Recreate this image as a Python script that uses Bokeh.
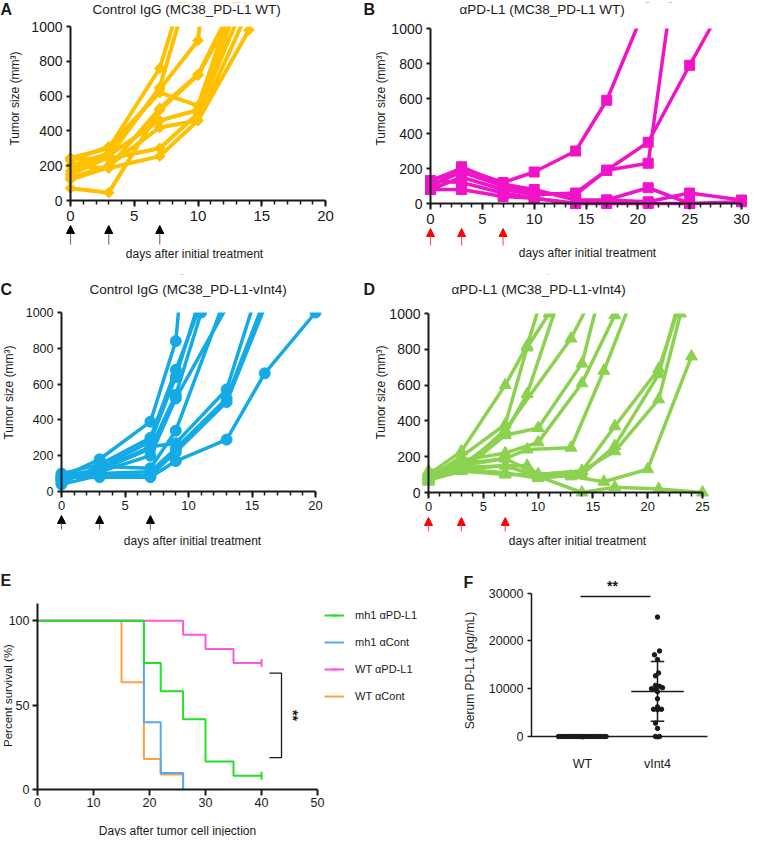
import numpy as np
from bokeh.plotting import figure
from bokeh.layouts import row, column
from bokeh.models import (LinearAxis, SingleIntervalTicker, FixedTicker, Range1d, BoxAnnotation,
                          Label, Arrow, NormalHead, ColumnDataSource, Legend, LegendItem)
from bokeh.embed import file_html
from bokeh.resources import INLINE

FONT = "Liberation Sans"
INK = "#1a1a1a"

# ------------------------------------------------------------------ data
treat_days = [0, 3, 7]
size_axis_max = 1000

A_days = [[0, 3, 7, 10], [0, 3, 7, 10], [0, 3, 7, 10, 14], [0, 3, 7, 10, 14],
          [0, 3, 7, 10, 14], [0, 3, 7, 10, 14], [0, 3, 7, 10, 14], [0, 3, 7, 10, 14],
          [0, 3, 7, 10, 14], [0, 3, 7, 10, 14]]
A_size = [[245, 300, 760, 1480], [150, 250, 650, 1400], [200, 270, 640, 920, 3500],
          [120, 190, 530, 725, 1300], [230, 310, 620, 545, 1400], [170, 260, 460, 520, 1300],
          [130, 200, 420, 460, 980], [240, 240, 300, 500, 1200], [70, 45, 520, 720, 1250],
          [200, 185, 255, 460, 1100]]

B_days = [[0, 3, 7, 10, 14, 17, 21], [0, 3, 7, 10, 14, 17, 21, 25],
          [0, 3, 7, 10, 14, 17, 21, 25, 28], [0, 3, 7, 10, 14, 17, 21, 25],
          [0, 3, 7, 10, 14, 17, 21, 25, 30], [0, 3, 7, 10, 14, 17, 21, 25, 30]]
B_size = [[130, 200, 120, 180, 300, 590, 1160], [100, 180, 100, 60, 50, 190, 230, 1940],
          [80, 150, 80, 50, 60, 190, 350, 790, 1110], [90, 210, 110, 80, 20, 20, 90, 0],
          [130, 120, 60, 30, 0, 20, 10, 60, 20], [80, 80, 40, 30, 0, 0, 0, 0, 10]]

C_days = [[0, 3, 7, 9, 11], [0, 3, 7, 9, 11], [0, 3, 7, 9, 11], [0, 3, 7, 9, 11],
          [0, 3, 7, 9, 13], [0, 3, 7, 9, 13, 15], [0, 3, 7, 9, 13, 16], [0, 3, 7, 9, 13, 16],
          [0, 3, 7, 9, 13, 16, 20], [0, 3, 7, 9, 13]]
C_size = [[80, 180, 390, 840, 2400], [100, 150, 300, 680, 1050], [60, 130, 280, 640, 1100],
          [90, 120, 240, 540, 1000], [70, 110, 200, 520, 1030], [60, 120, 250, 270, 570, 1020],
          [70, 100, 110, 240, 520, 1070], [40, 90, 90, 220, 500, 1030],
          [80, 80, 80, 170, 290, 660, 1000], [50, 140, 130, 340, 1100]]

D_days = [[0, 3, 7, 9, 11], [0, 3, 7, 9, 11], [0, 3, 7, 9, 12], [0, 3, 7, 13, 15],
          [0, 3, 7, 10, 14, 16], [0, 3, 7, 10, 14, 17], [0, 3, 7, 9, 13, 16, 19],
          [0, 3, 7, 9, 10, 14, 17, 21, 23], [0, 3, 7, 10, 14, 17, 21, 23],
          [0, 3, 7, 10, 14, 17, 21, 23], [0, 3, 7, 10, 13, 16, 20, 24],
          [0, 3, 7, 10, 14, 17, 21, 25]]
D_size = [[100, 230, 600, 820, 1220], [80, 200, 380, 810, 1000], [120, 150, 330, 550, 1100],
          [90, 130, 350, 860, 1100], [70, 120, 320, 360, 720, 1200],
          [60, 180, 220, 280, 610, 990], [100, 160, 190, 240, 250, 680, 1150],
          [110, 140, 150, 150, 100, 120, 370, 690, 1060], [90, 130, 110, 80, 100, 260, 660, 1100],
          [70, 120, 100, 100, 120, 230, 520, 1000], [110, 150, 190, 100, 90, 60, 130, 760],
          [80, 130, 150, 90, 0, 30, 20, 0]]

# survival (Kaplan-Meier steps)
surv_names = ["mh1 \u03b1PD-L1", "mh1 \u03b1Cont", "WT \u03b1PD-L1", "WT \u03b1Cont"]
surv_colors = ["#22E022", "#5AA8F5", "#FF55DD", "#FFA040"]
surv_days = [[0, 19, 22, 26, 30, 35, 40], [0, 19, 22, 26], [0, 26, 30, 35, 40],
             [0, 15, 19, 22, 26]]
surv_pct = [[100, 75, 58.3, 41.7, 16.7, 8.3, 8.3], [100, 40, 10, 0], [100, 91.7, 83.3, 75, 75],
            [100, 63.6, 18.2, 9.1, 0]]
censor_day = [[40], [], [40], []]
censor_pct = [[8.3], [], [75], []]
bracket_pct = [19, 69]

# serum PD-L1
wt_vals = [0] * 20
wt_offset_px = [-24, -21.5, -19, -16.5, -14, -11.5, -9, -6.5, -4, -1.5, 1, 3.5, 6, 8.5,
                11, 13.5, 16, 18.5, 21, 23.5]
vint_vals = [25000, 17900, 17100, 16100, 13300, 12700, 10700, 10500, 10200, 10000, 9800,
             9400, 7900, 6200, 5700, 5600, 5700, 2800, 1700, 0, 0]
vint_offset_px = [0, 2, -3, 0, 1, -2, -2, 2, 5, -6, -2, 0, 0, 0, -4, 0, 4, -2, 0, -2, 2]
group_labels = {1: "WT", 2: "vInt4"}


# ------------------------------------------------------------------ helpers
class Map:
    def __init__(self, W, H, xd, xp, yd, yp, T=2):
        self.W, self.H, self.T = W, H, T
        self.sx = (xp[1] - xp[0]) / (xd[1] - xd[0])
        self.d0, self.p0 = xd[0], xp[0]
        self.sy = (yp[0] - yp[1]) / (yd[1] - yd[0])
        self.e0, self.q0 = yd[0], yp[0]

    def X(self, px):
        return self.d0 + (px - self.p0) / self.sx

    def Y(self, py):
        return self.e0 + (self.q0 - py) / self.sy


def make_fig(m):
    p = figure(width=m.W, height=m.H,
               x_range=Range1d(m.X(0), m.X(m.W)), y_range=Range1d(m.Y(m.H), m.Y(m.T)),
               min_border_left=0, min_border_right=0, min_border_top=m.T, min_border_bottom=0,
               toolbar_location=None, output_backend="svg",
               x_axis_location=None, y_axis_location=None,
               outline_line_color=None, background_fill_color="white",
               border_fill_color="white")
    p.grid.visible = False
    return p


def add_axes(p, xloc, yloc, xbounds, ybounds, xticker, yticker, xfs, yfs,
             xstand=4, ystand=4, lw=2, xtick=6, ytick=4, xminor=4):
    xa = LinearAxis(fixed_location=yloc, bounds=xbounds, ticker=xticker, level="overlay")
    ya = LinearAxis(fixed_location=xloc, bounds=ybounds, ticker=yticker, level="overlay")
    for ax, fs, st, tk in ((xa, xfs, xstand, xtick), (ya, yfs, ystand, ytick)):
        ax.axis_line_width = lw
        ax.axis_line_color = INK
        ax.major_tick_line_width = lw
        ax.major_tick_line_color = INK
        ax.minor_tick_line_width = lw * 0.75
        ax.minor_tick_line_color = INK
        ax.major_tick_in = 0
        ax.major_tick_out = tk
        ax.minor_tick_in = 0
        ax.major_label_text_font = FONT
        ax.major_label_text_font_size = fs
        ax.major_label_text_color = INK
        ax.major_label_standoff = st
    xa.minor_tick_out = xminor
    ya.minor_tick_out = 0
    p.add_layout(xa, "below")
    p.add_layout(ya, "left")
    return xa, ya


def txt(p, m, px, py, text, size="12px", align="left", bold=False, angle=0.0):
    p.add_layout(Label(x=m.X(px), y=m.Y(py), text=text, text_font=FONT,
                       text_font_size=size, text_align=align, text_baseline="middle",
                       text_font_style="bold" if bold else "normal", text_color=INK,
                       angle=angle))


def tumor_panel(m, days, sizes, color, marker, msize, xmax, xfs, yfs, title, title_x,
                title_y, ylab_x, ylab_y, xlab_x, xlab_y, arrow_top, arrow_bot,
                head_color, shaft_color, mangle=0.0, lw=4, xstand=4):
    p = make_fig(m)
    add_axes(p, 0, 0, (0, xmax), (0, size_axis_max),
             SingleIntervalTicker(interval=5, num_minor_ticks=5),
             SingleIntervalTicker(interval=200, num_minor_ticks=0), xfs, yfs,
             xstand=xstand)
    p.multi_line(days, sizes, line_color=color, line_width=lw, line_join="round")
    # points beyond the axis maximum are off the chart (only their lines enter it)
    pts = [(d, v) for sd, sv in zip(days, sizes) for d, v in zip(sd, sv)
           if v <= size_axis_max]
    p.scatter([q[0] for q in pts], [q[1] for q in pts], marker=marker, size=msize,
              angle=mangle, fill_color=color, line_color=color)
    p.add_layout(BoxAnnotation(bottom=size_axis_max, fill_color="white", fill_alpha=1.0,
                               line_color=None))
    src = ColumnDataSource(dict(x=treat_days, ys=[m.Y(arrow_bot)] * len(treat_days),
                                ye=[m.Y(arrow_top)] * len(treat_days)))
    p.add_layout(Arrow(end=NormalHead(size=8, fill_color=head_color, line_color=head_color),
                       x_start="x", y_start="ys", x_end="x", y_end="ye", source=src,
                       line_color=shaft_color, line_width=1.2))
    txt(p, m, title_x, title_y, title, size="13.5px")
    txt(p, m, ylab_x, ylab_y, "Tumor size (mm\u00b3)", size="12px", align="center",
        angle=np.pi / 2)
    txt(p, m, xlab_x, xlab_y, "days after initial treatment", size="12px", align="center")
    return p


# ------------------------------------------------------------------ A
mA = Map(375, 272, (0, 20), (70, 325), (0, 1000), (200, 26))
pA = tumor_panel(mA, A_days, A_size, "#FFC000", "square", 7.5, 20, "15px", "14px",
                 "Control IgG (MC38_PD-L1 WT)", 92, 9, 14, 98, 194, 253, 225, 244,
                 "black", "#777777", mangle=np.pi / 4)
txt(pA, mA, 0, 9, "A", size="16px", bold=True)
txt(pA, mA, 363, 9, "B", size="16px", bold=True)

# ------------------------------------------------------------------ B
mB = Map(375, 272, (0, 30), (55, 366), (0, 1000), (203, 28))
pB = tumor_panel(mB, B_days, B_size, "#F014C8", "square", 10, 30, "15px", "14px",
                 "\u03b1PD-L1 (MC38_PD-L1 WT)", 84, 9, 5, 98, 212, 252, 228, 245,
                 "#FF0000", "#FF6060", lw=3.5)

# ------------------------------------------------------------------ C
mC = Map(375, 276, (0, 20), (61, 315), (0, 1000), (219, 40))
pC = tumor_panel(mC, C_days, C_size, "#14AAE6", "circle", 11, 20, "13px", "12.5px",
                 "Control IgG (MC38_PD-L1-vInt4)", 89, 17, 8, 120, 192, 268, 243, 257,
                 "black", "#777777", lw=3.5, xstand=3)
txt(pC, mC, 0, 17, "C", size="16px", bold=True)
txt(pC, mC, 363, 17, "D", size="16px", bold=True)

# ------------------------------------------------------------------ D
mD = Map(375, 276, (0, 25), (53, 327), (0, 1000), (220, 41))
pD = tumor_panel(mD, D_days, D_size, "#8CD250", "triangle", 12, 25, "13px", "14px",
                 "\u03b1PD-L1 (MC38_PD-L1-vInt4)", 76, 17, 5, 120, 202, 268, 245, 259,
                 "#FF0000", "#FF6060", lw=3.5, xstand=3)

# ------------------------------------------------------------------ E
mE = Map(462, 288, (0, 50), (37, 317), (0, 100), (241.3, 72.3))
pE = make_fig(mE)
add_axes(pE, 0, 0, (0, 50), (0, 110),
         SingleIntervalTicker(interval=10, num_minor_ticks=0),
         SingleIntervalTicker(interval=50, num_minor_ticks=0), "12.5px", "12.5px",
         xstand=2, ystand=3, lw=2, xtick=6, ytick=5, xminor=0)
items = [None] * 4
for i in [3, 1, 2, 0]:
    c = surv_colors[i]
    r1 = pE.step(surv_days[i], surv_pct[i], mode="after", line_color=c, line_width=2)
    r2 = pE.scatter(censor_day[i], censor_pct[i], marker="dash", angle=np.pi / 2, size=8,
                    line_color=c, line_width=2)
    items[i] = LegendItem(label=surv_names[i], renderers=[r1, r2])
leg = Legend(items=items, location=(324, 133), glyph_width=20, glyph_height=14,
             label_height=14, spacing=13, label_standoff=11, padding=0, margin=0,
             border_line_color=None, background_fill_alpha=0, label_text_font=FONT,
             label_text_font_size="11px", label_text_color=INK)
pE.add_layout(leg)
bx0, bx1 = mE.X(269), mE.X(281)
pE.multi_line([[bx0, bx1, bx1, bx0]], [[bracket_pct[1], bracket_pct[1], bracket_pct[0],
                                        bracket_pct[0]]], line_color=INK, line_width=1.3)
txt(pE, mE, 292, mE.q0 - (bracket_pct[0] + bracket_pct[1]) / 2 * mE.sy, "**",
    size="14px", align="center", bold=True, angle=-np.pi / 2)
txt(pE, mE, 0, 32, "E", size="16px", bold=True)
txt(pE, mE, 7, 147, "Percent survival (%)", size="11.5px", align="center", angle=np.pi / 2)
txt(pE, mE, 177, 282, "Days after tumor cell injection", size="12px", align="center")

# ------------------------------------------------------------------ F
mF = Map(288, 288, (1, 2), (120, 195), (0, 30000), (188, 44.7))
pF = make_fig(mF)
xa, ya = add_axes(pF, mF.X(69), 0, (mF.X(69), mF.X(245)), (0, 30000),
                  FixedTicker(ticks=[1, 2]),
                  SingleIntervalTicker(interval=10000, num_minor_ticks=0), "12.5px", "12.5px",
                  xstand=17, ystand=4, lw=1.5, xtick=3, ytick=4, xminor=0)
xa.major_label_overrides = group_labels
wt_x = [1 + o / mF.sx for o in wt_offset_px]
vi_x = [2 + o / mF.sx for o in vint_offset_px]
pF.scatter(wt_x + vi_x, wt_vals + vint_vals, marker="circle", size=4.5, fill_color=INK,
           line_color=INK)
for g, vals in ((1, wt_vals), (2, vint_vals)):
    mu = float(np.mean(vals))
    sd = float(np.std(vals, ddof=1))
    pF.segment([g - 0.35, g, g - 0.09, g - 0.09], [mu, mu - sd, mu + sd, mu - sd],
               [g + 0.35, g, g + 0.09, g + 0.09], [mu, mu + sd, mu + sd, mu - sd],
               line_color=INK, line_width=1.5)
sig_y = mF.Y(604 - 556)
pF.segment([mF.X(118)], [sig_y], [mF.X(188)], [sig_y], line_color=INK, line_width=1.3)
txt(pF, mF, 150, 37, "**", size="14px", align="center", bold=True)
txt(pF, mF, 1, 34, "F", size="16px", bold=True)
txt(pF, mF, 7, 122, "Serum PD-L1 (pg/mL)", size="12px", align="center", angle=np.pi / 2)

layout = column(row(pA, pB), row(pC, pD), row(pE, pF))
open("out.html", "w").write(file_html(layout, INLINE))
